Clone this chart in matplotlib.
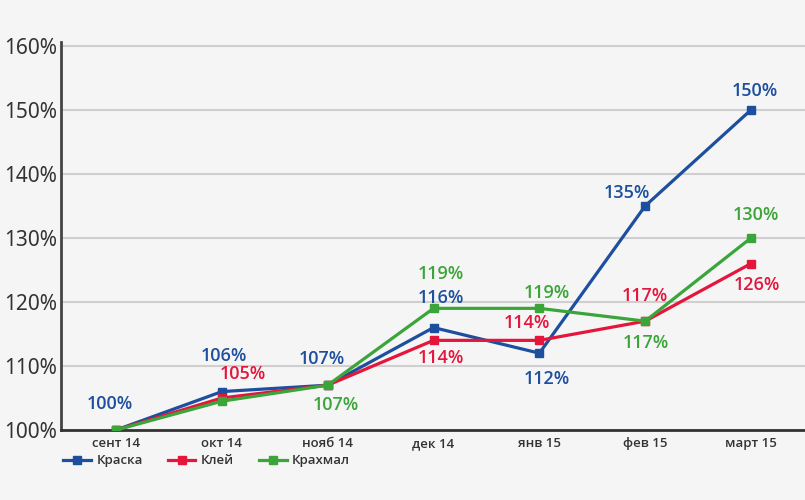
import matplotlib
matplotlib.use("Agg")
import matplotlib.pyplot as plt
from matplotlib.ticker import FuncFormatter

# data
months = ["сент 14", "окт 14", "нояб 14", "дек 14", "янв 15", "фев 15", "март 15"]
kraska = [100, 106, 107, 116, 112, 135, 150]
klei = [100, 105, 107, 114, 114, 117, 126]
krahmal = [100, 104.5, 107, 119, 119, 117, 130]

# label text shown next to points (None = no label)
kraska_lbl = ["100%", "106%", "107%", "116%", "112%", "135%", "150%"]
klei_lbl = [None, "105%", None, "114%", "114%", "117%", "126%"]
krahmal_lbl = [None, None, "107%", "119%", "119%", "117%", "130%"]

# label offsets in pixels
kraska_off = [(-6, 26), (2, 36), (-6, 26), (7, 30), (7, -26), (-18, 13), (4, 19)]
klei_off = [None, (21, 24), None, (7, -18), (-12, 17), (0, 25), (6, -21)]
krahmal_off = [None, None, (8, -20), (7, 34), (7, 15), (1, -22), (5, 23)]

blue = "#1d4f9e"
red = "#e4163c"
green = "#3ba53a"
bg = "#f5f5f5"
txt = "#333333"

plt.rcParams['font.family'] = ["Open Sans", "DejaVu Sans"]

fig = plt.figure(figsize=(8.05, 5.0), dpi=100, facecolor=bg)
ax = fig.add_axes([61/805, 70/500, 1 - 61/805, (430-42)/500])
ax.set_facecolor(bg)

x = list(range(len(months)))
series = [(kraska, blue, "Краска", kraska_lbl, kraska_off),
          (klei, red, "Клей", klei_lbl, klei_off),
          (krahmal, green, "Крахмал", krahmal_lbl, krahmal_off)]

for vals, col, name, lbls, offs in series:
    ax.plot(x, vals, color=col, lw=2.3, marker="s", ms=5.5, label=name, zorder=3)

for vals, col, name, lbls, offs in series:
    for i, (v, l, o) in enumerate(zip(vals, lbls, offs)):
        if l is None:
            continue
        ax.annotate(l, (i, v), xytext=o, textcoords="offset pixels",
                    ha="center", va="center", color=col, fontsize=13,
                    fontweight="semibold", zorder=4)

ax.set_xlim(-0.52, 6.51)
ax.set_ylim(100, 160.6)
ax.set_yticks([100, 110, 120, 130, 140, 150, 160])
ax.yaxis.set_major_formatter(FuncFormatter(lambda v, p: "%d%%" % v))
ax.set_xticks(x)
ax.set_xticklabels(months, fontsize=9.5, fontweight="semibold", color=txt)
for t in ax.get_yticklabels():
    t.set_fontsize(15)
    t.set_color(txt)
    t.set_family(["Noto Sans", "DejaVu Sans"])
ax.tick_params(axis="both", length=0)
ax.tick_params(axis="x", pad=5)
ax.tick_params(axis="y", pad=3)

ax.grid(axis="y", color="#cfcfcf", lw=1.5, zorder=0)
for s in ["top", "right"]:
    ax.spines[s].set_visible(False)
ax.spines["left"].set_color("#444444")
ax.spines["left"].set_linewidth(2)
ax.spines["bottom"].set_color("#333333")
ax.spines["bottom"].set_linewidth(2)

leg = fig.legend(loc="upper left", bbox_to_anchor=(58/805, 1 - 449/500), ncol=3,
                 frameon=False, prop={"size": 9.5, "weight": "semibold"},
                 handlelength=2.1, handletextpad=0.4,
                 columnspacing=1.9, borderaxespad=0)
for t in leg.get_texts():
    t.set_color(txt)

fig.savefig("out.png", dpi=100, facecolor=bg)
